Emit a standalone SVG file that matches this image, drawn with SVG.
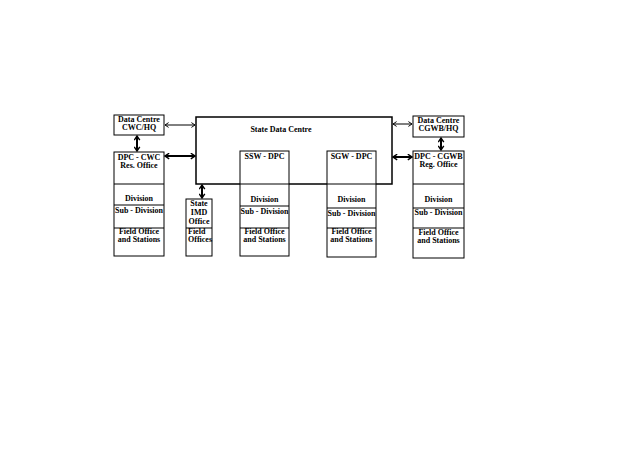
<svg xmlns="http://www.w3.org/2000/svg" width="638" height="451" viewBox="0 0 638 451">
<style>
.b{fill:#fff;stroke:#000;stroke-width:1}
.d{stroke:#000;stroke-width:1}
text{font-family:"Liberation Serif","Times New Roman",serif;font-weight:bold;font-size:8px;fill:#000;text-anchor:middle}
.l{text-anchor:start}
.a1{stroke:#000;stroke-width:1;fill:none;marker-start:url(#h1);marker-end:url(#h1)}
.a2{stroke:#000;stroke-width:2;fill:none;marker-start:url(#h2);marker-end:url(#h2)}
</style>
<defs>
<marker id="h1" viewBox="0 0 10 10" refX="9" refY="5" markerWidth="6" markerHeight="6" orient="auto-start-reverse" markerUnits="userSpaceOnUse"><path d="M3,1 L9,5 L3,9" fill="none" stroke="#000" stroke-width="1.6"/></marker>
<marker id="h2" viewBox="0 0 10 10" refX="9" refY="5" markerWidth="7" markerHeight="7" orient="auto-start-reverse" markerUnits="userSpaceOnUse"><path d="M3,1 L9,5 L3,9" fill="none" stroke="#000" stroke-width="2"/></marker>
</defs>
<rect width="638" height="451" fill="#fff"/>
<g id="sdc">
<rect x="196" y="117" width="196" height="67" fill="#fff" stroke="#000" stroke-width="1.5"/>
<text x="281" y="132">State Data Centre</text>
</g>
<g id="dc-cwc">
<rect class="b" x="114" y="115" width="50" height="20"/>
<text x="139" y="122">Data Centre</text>
<text x="139" y="130">CWC/HQ</text>
</g>
<g id="dpc-cwc">
<rect class="b" x="114" y="152" width="50" height="104"/>
<line class="d" x1="114" y1="184" x2="164" y2="184"/>
<line class="d" x1="114" y1="205" x2="164" y2="205"/>
<line class="d" x1="114" y1="228" x2="164" y2="228"/>
<text x="139" y="160">DPC - CWC</text>
<text x="139" y="168">Res. Office</text>
<text x="139" y="201">Division</text>
<text x="139" y="213">Sub - Division</text>
<text x="139" y="234">Field Office</text>
<text x="139" y="242">and Stations</text>
</g>
<g id="imd">
<rect class="b" x="186" y="199" width="26" height="57"/>
<line class="d" x1="186" y1="228" x2="212" y2="228"/>
<text x="199" y="206">State</text>
<text x="199" y="215">IMD</text>
<text x="199" y="224">Office</text>
<text class="l" x="188" y="234">Field</text>
<text class="l" x="188" y="242">Offices</text>
</g>
<g id="ssw">
<rect class="b" x="240" y="151" width="49" height="105"/>
<line class="d" x1="240" y1="184" x2="289" y2="184"/>
<line class="d" x1="240" y1="206" x2="289" y2="206"/>
<line class="d" x1="240" y1="228" x2="289" y2="228"/>
<text x="264.5" y="159">SSW - DPC</text>
<text x="264.5" y="202">Division</text>
<text x="264.5" y="214">Sub - Division</text>
<text x="264.5" y="234">Field Office</text>
<text x="264.5" y="242">and Stations</text>
</g>
<g id="sgw">
<rect class="b" x="327" y="151" width="49" height="106"/>
<line class="d" x1="327" y1="184" x2="376" y2="184"/>
<line class="d" x1="327" y1="208" x2="376" y2="208"/>
<line class="d" x1="327" y1="228" x2="376" y2="228"/>
<text x="351.5" y="159">SGW - DPC</text>
<text x="351.5" y="202">Division</text>
<text x="351.5" y="216">Sub - Division</text>
<text x="351.5" y="234">Field Office</text>
<text x="351.5" y="242">and Stations</text>
</g>
<g id="dc-cgwb">
<rect class="b" x="413" y="116" width="51" height="21"/>
<text x="438.5" y="123">Data Centre</text>
<text x="438.5" y="131">CGWB/HQ</text>
</g>
<g id="dpc-cgwb">
<rect class="b" x="413" y="151" width="51" height="107"/>
<line class="d" x1="413" y1="184" x2="464" y2="184"/>
<line class="d" x1="413" y1="208" x2="464" y2="208"/>
<line class="d" x1="413" y1="228" x2="464" y2="228"/>
<text x="438.5" y="159">DPC - CGWB</text>
<text x="438.5" y="167">Reg. Office</text>
<text x="438.5" y="202">Division</text>
<text x="438.5" y="215">Sub - Division</text>
<text x="438.5" y="235">Field Office</text>
<text x="438.5" y="243">and Stations</text>
</g>
<g id="connectors">
<line class="a1" x1="165" y1="125" x2="195" y2="125"/>
<line class="a2" x1="165" y1="156" x2="195" y2="156"/>
<line class="a2" x1="137" y1="136" x2="137" y2="151"/>
<line class="a2" x1="202" y1="185" x2="202" y2="198"/>
<line class="a1" x1="393" y1="124" x2="412" y2="124"/>
<line class="a2" x1="393" y1="157" x2="412" y2="157"/>
<line class="a2" x1="441" y1="138" x2="441" y2="150"/>
</g>
</svg>
